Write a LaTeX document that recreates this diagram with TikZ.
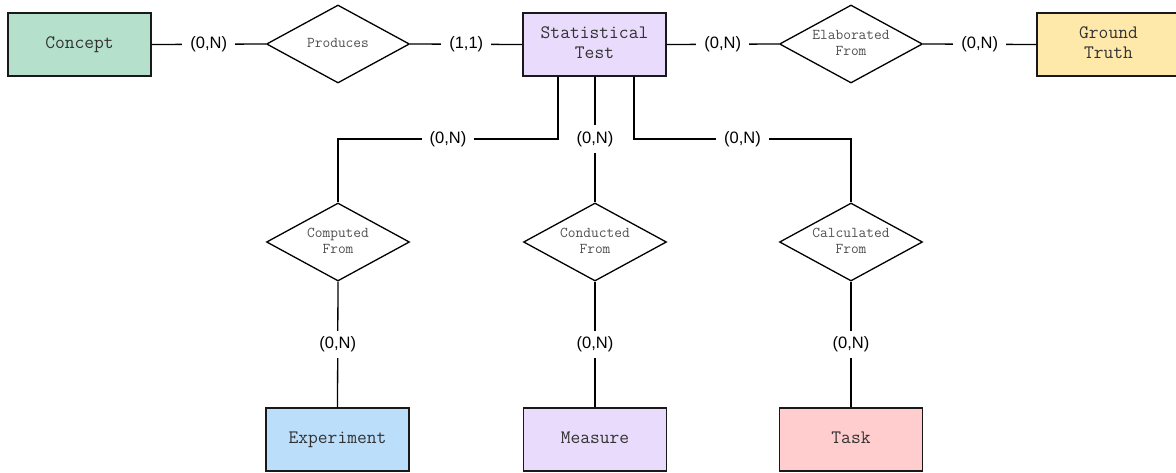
\documentclass[tikz,border=0pt]{standalone}
\usepackage{fontspec}
\setmainfont{Liberation Sans}
\usetikzlibrary{shapes.geometric}

\definecolor{entgreen}{RGB}{181,224,204}
\definecolor{entpurple}{RGB}{232,219,252}
\definecolor{entyellow}{RGB}{255,233,170}
\definecolor{entblue}{RGB}{187,222,251}
\definecolor{entpink}{RGB}{255,205,206}
\definecolor{ertext}{RGB}{50,50,50}
\definecolor{reltext}{RGB}{80,80,80}

% one line of label text with a fixed height and depth
\newcommand{\erline}[1]{\strut #1}

\tikzset{
  entity/.style={draw=black!90, line width=1.4pt, rectangle,
    minimum width=143pt, minimum height=63pt, inner sep=0pt,
    align=center, font=\ttfamily\fontsize{19}{20}\selectfont, text=ertext},
  relation/.style={draw=black, line width=1.3pt, diamond, aspect=1.83,
    minimum width=143pt, minimum height=78pt, inner sep=0pt, fill=white,
    align=center, font=\ttfamily\fontsize{15}{16}\selectfont, text=reltext},
  link/.style={draw=black, line width=1.3pt},
  card/.style={fill=white, inner xsep=8pt, inner ysep=6pt,
    font=\fontsize{16.5}{18}\selectfont, text=black}
}

\begin{document}
\begin{tikzpicture}[x=1pt, y=-1pt]
  \useasboundingbox (0,0) rectangle (1176,472);
  \clip (0,0) rectangle (1176,472);

  % top row: entities and relationships
  \node[entity, fill=entgreen]  (concept)  at (79.5,44.5)  {\erline{Concept}};
  \node[relation]               (produces) at (338,44)     {\erline{Produces}};
  \node[entity, fill=entpurple] (stat)     at (594.5,44.5) {\erline{Statistical}\\\erline{Test}};
  \node[relation]               (elab)     at (851,44)     {\erline{Elaborated}\\\erline{From}};
  \node[entity, fill=entyellow] (truth)    at (1108.5,44.5){\erline{Ground}\\\erline{Truth}};

  % middle row: relationships
  \node[relation] (computed)   at (338,242) {\erline{Computed}\\\erline{From}};
  \node[relation] (conducted)  at (595,242) {\erline{Conducted}\\\erline{From}};
  \node[relation] (calculated) at (851,242) {\erline{Calculated}\\\erline{From}};

  % bottom row: entities
  \node[entity, fill=entblue]   (experiment) at (337.5,439.5) {\erline{Experiment}};
  \node[entity, fill=entpurple] (measure)    at (595,439.5)   {\erline{Measure}};
  \node[entity, fill=entpink]   (task)       at (851,439.5)   {\erline{Task}};

  % bend points under the statistical test box
  \coordinate (dropL) at (558,139);
  \coordinate (dropM) at (595,139);
  \coordinate (dropR) at (634,139);

  % top row connectors
  \draw[link] (concept.east) -- node[card]{(0,N)} (produces.west);
  \draw[link] (produces.east) -- node[card]{(1,1)} (stat.west);
  \draw[link] (stat.east) -- node[card]{(0,N)} (elab.west);
  \draw[link] (elab.east) -- node[card]{(0,N)} (truth.west);

  % connectors from the statistical test down to the relationships
  \draw[link] (stat.south -| dropL) -- (dropL)
     -- node[card]{(0,N)} (dropL -| computed) -- (computed.north);
  \draw[link] (stat.south -| dropM) -- (dropM) node[card]{(0,N)} -- (conducted.north);
  \draw[link] (stat.south -| dropR) -- (dropR)
     -- node[card]{(0,N)} (dropR -| calculated) -- (calculated.north);

  % connectors from the relationships down to the entities
  \draw[link] (computed.south) -- node[card]{(0,N)} (experiment.north);
  \draw[link] (conducted.south) -- node[card]{(0,N)} (measure.north);
  \draw[link] (calculated.south) -- node[card]{(0,N)} (task.north);
\end{tikzpicture}
\end{document}
